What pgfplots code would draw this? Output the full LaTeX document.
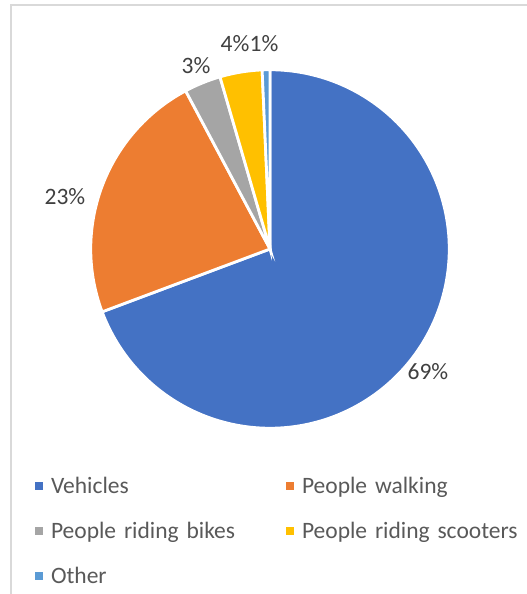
\documentclass[border=0pt]{standalone}
\usepackage{fontspec}
\setmainfont{Carlito}
\usepackage{pgfplots}
\pgfplotsset{compat=1.18}
\definecolor{cVeh}{HTML}{4472C4}
\definecolor{cWalk}{HTML}{ED7D31}
\definecolor{cBike}{HTML}{A5A5A5}
\definecolor{cScoot}{HTML}{FFC000}
\definecolor{cOther}{HTML}{5B9BD5}
\definecolor{cLabel}{HTML}{404040}
\definecolor{cLegend}{HTML}{595959}
\definecolor{cBorder}{HTML}{D9D9D9}
\newcommand{\bigfont}{\fontsize{23.5}{28}\selectfont}
\begin{document}
\begin{tikzpicture}[x=1pt,y=1pt]
\path[use as bounding box] (0,0) rectangle (527,594);
\draw[cBorder, line width=1.5pt] (11,-10) -- (11,589) -- (540,589);
\begin{axis}[
  at={(270pt,345pt)}, anchor=center,
  scale only axis, width=358.5pt, height=358.5pt,
  xmin=-1, xmax=1, ymin=-1, ymax=1,
  hide axis, clip=false,
  legend columns=2, legend cell align=left,
  legend style={draw=none, fill=none, inner sep=0pt, outer sep=0pt,
    at={(-0.1555,-0.136)}, anchor=north west,
    row sep=24pt,
    nodes={font=\bigfont, text=cLegend, inner sep=0pt, text height=16pt, text depth=5pt, text width=200pt, align=left},
    /tikz/every odd column/.append style={column sep=8pt},
    /tikz/every even column/.append style={column sep=35pt}},
  legend image code/.code={\fill[#1,draw=none] (0pt,-2.5pt) rectangle (8pt,5.5pt);},
  every axis plot/.append style={draw=white, line width=2.8pt},
]
% values (percent): 69.3, 22.9, 3.3, 3.8, 0.7 -> cumulative boundaries
\addplot[fill=cVeh, domain=0:69.3, samples=150] ({cos(90-3.6*x)},{sin(90-3.6*x)}) -- (0,0) -- cycle;
\addlegendentry{\mbox{Vehicles}}
\addplot[fill=cWalk, domain=69.3:92.2, samples=60] ({cos(90-3.6*x)},{sin(90-3.6*x)}) -- (0,0) -- cycle;
\addlegendentry{\mbox{People walking}}
\addplot[fill=cBike, domain=92.2:95.5, samples=20] ({cos(90-3.6*x)},{sin(90-3.6*x)}) -- (0,0) -- cycle;
\addlegendentry{\mbox{People riding bikes}}
\addplot[fill=cScoot, domain=95.5:99.3, samples=20] ({cos(90-3.6*x)},{sin(90-3.6*x)}) -- (0,0) -- cycle;
\addlegendentry{\mbox{People riding scooters}}
\addplot[fill=cOther, domain=99.3:100, samples=8] ({cos(90-3.6*x)},{sin(90-3.6*x)}) -- (0,0) -- cycle;
\addlegendentry{\mbox{Other}}
\begin{scope}[every node/.style={font=\bigfont, text=cLabel, inner sep=0pt, text depth=0pt, anchor=center}]
\node at (axis cs:0.881,-0.685) {69\%};
\node at (axis cs:-1.144,0.293) {23\%};
\node at (axis cs:-0.413,1.026) {3\%};
\node at (axis cs:-0.195,1.144) {4\%};
\node at (axis cs:-0.033,1.144) {1\%};
\end{scope}
\end{axis}
\end{tikzpicture}
\end{document}
